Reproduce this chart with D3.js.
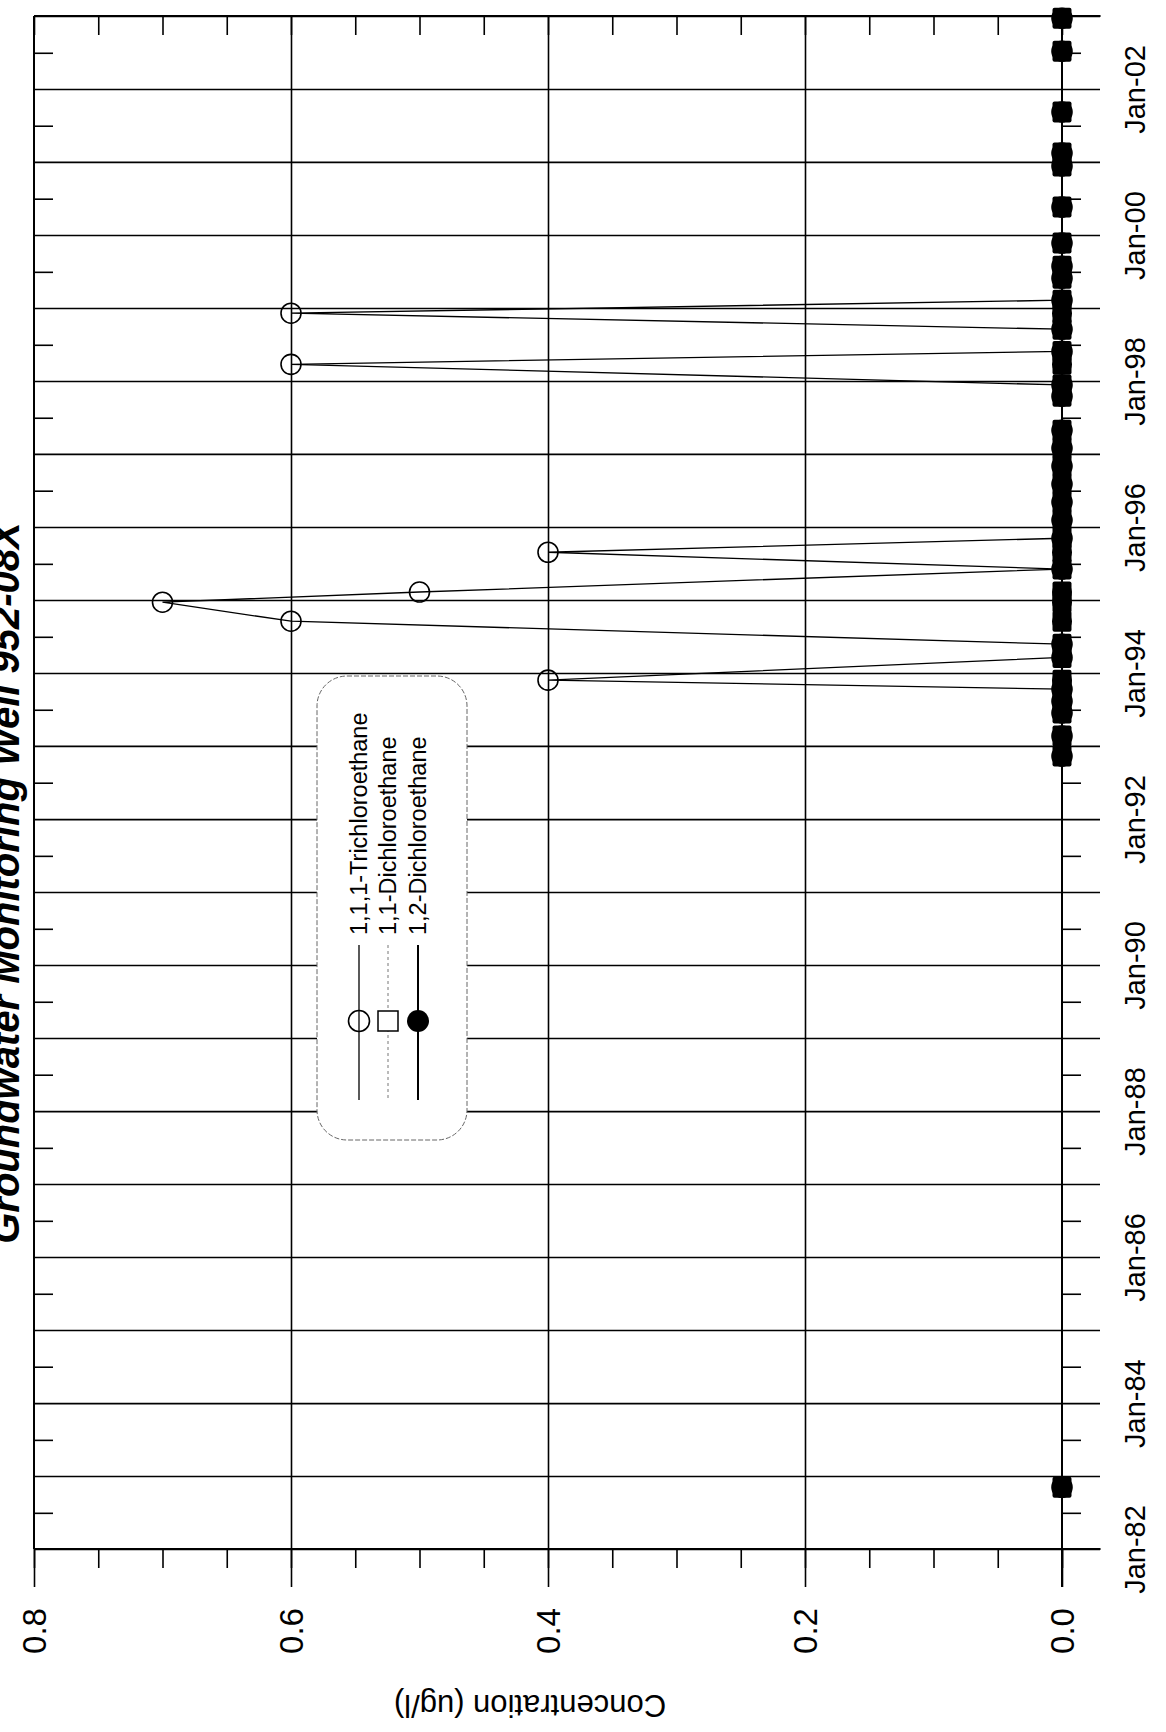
<!DOCTYPE html>
<html><head><meta charset="utf-8">
<script src="https://cdn.jsdelivr.net/npm/d3@7"></script>
<style>body{margin:0;background:#fff} svg{display:block;font-family:"Liberation Sans",Arial,sans-serif}</style>
</head><body>
<svg id="c" width="1166" height="1732"></svg>
<script>
const chartTitle = "Groundwater Monitoring Well 952-08X";
const valueAxisTitle = "Concentration (ug/l)";
const seriesNames = ["1,1,1-Trichloroethane", "1,1-Dichloroethane", "1,2-Dichloroethane"];
const sampleDates = ["1982-11-06","1992-11-11","1993-02-20","1993-06-15","1993-08-13","1993-10-12","1993-11-26",
  "1994-03-20","1994-05-25","1994-09-17","1994-12-21","1995-02-10","1995-06-05","1995-08-28","1995-11-06",
  "1996-02-05","1996-05-05","1996-08-03","1996-11-01","1997-01-30","1997-04-29","1997-10-17","1997-12-12",
  "1998-03-25","1998-05-29","1998-09-17","1998-12-06","1999-02-09","1999-05-30","1999-07-29","1999-11-22",
  "2000-05-20","2000-12-12","2001-02-14","2001-09-08","2002-07-09","2002-12-21"];
const tca111 = [0,0,0,0,0,0,0.4, 0,0,0.6,0.7,0.5,0,0.4,0, 0,0,0,0,0,0,0,0, 0.6,0,0,0.6,0,0,0,0, 0,0,0,0,0,0];
const dca11  = [0,0,0,0,0,0,0, 0,0,0,0,0,0,0,0, 0,0,0,0,0,0,0,0, 0,0,0,0,0,0,0,0, 0,0,0,0,0,0];
const dca12  = [0,0,0,0,0,0,0, 0,0,0,0,0,0,0,0, 0,0,0,0,0,0,0,0, 0,0,0,0,0,0,0,0, 0,0,0,0,0,0];
const valueMajorTicks = [0, 0.2, 0.4, 0.6, 0.8];
const valueTickLabels = ["0.0", "0.2", "0.4", "0.6", "0.8"];
const dateTickLabels = ["Jan-82","Jan-84","Jan-86","Jan-88","Jan-90","Jan-92","Jan-94","Jan-96","Jan-98","Jan-00","Jan-02"];

const svg = d3.select("#c");
const parse = d3.timeParse("%Y-%m-%d");
const dates = sampleDates.map(parse);

// geometry (chart is drawn rotated: dates run bottom->top, values right->left)
const X0 = 1062, XL = 34, YB = 1549, YT = 16, OUT = 38, MIN = 19;
const x = d3.scaleLinear().domain([0.8, 0]).range([XL, X0]);
const y = d3.scaleTime().domain([new Date(1982,0,1), new Date(2003,0,1)]).range([YB, YT]);
const xRight = x(-0.03);

const years = d3.timeYear.range(new Date(1982,0,1), new Date(2003,0,2));
const julys = d3.timeYear.range(new Date(1982,0,1), new Date(2003,0,1)).map(d => d3.timeMonth.offset(d, 6));
const minorVals = d3.range(0, 17).map(i => +(i*0.05).toFixed(2));

const g = svg.append("g");
const black = "#000";

// vertical gridlines (value)
g.append("g").attr("transform", `translate(0,${YB})`)
  .call(d3.axisBottom(x).tickValues(valueMajorTicks.filter(v => v > 0 && v < 0.8)).tickSize(-(YB-YT)).tickFormat(""))
  .call(s => s.select(".domain").remove())
  .selectAll("line").attr("stroke", black).attr("stroke-width", 1.6);
// horizontal gridlines (dates)
g.append("g").attr("transform", `translate(${X0},0)`)
  .call(d3.axisRight(y).tickValues(years).tickSize(-(X0-XL)).tickFormat(""))
  .call(s => s.select(".domain").remove())
  .selectAll("line").attr("stroke", black).attr("stroke-width", 1.6);

// left border with inward minor ticks
g.append("line").attr("x1", XL).attr("x2", XL).attr("y1", YT).attr("y2", YB).attr("stroke", black).attr("stroke-width", 2);
g.append("g").attr("transform", `translate(${XL},0)`)
  .call(d3.axisRight(y).tickValues(julys).tickSize(MIN).tickFormat(""))
  .call(s => s.select(".domain").remove())
  .selectAll("line").attr("stroke", black).attr("stroke-width", 1.6);
// top border with inward minor ticks
g.append("line").attr("x1", XL).attr("x2", xRight).attr("y1", YT).attr("y2", YT).attr("stroke", black).attr("stroke-width", 2);
g.append("g").attr("transform", `translate(0,${YT})`)
  .call(d3.axisBottom(x).tickValues(minorVals).tickSize(MIN).tickFormat(""))
  .call(s => s.select(".domain").remove())
  .selectAll("line").attr("stroke", black).attr("stroke-width", 1.6);

// value axis (bottom)
g.append("line").attr("x1", XL).attr("x2", xRight).attr("y1", YB).attr("y2", YB).attr("stroke", black).attr("stroke-width", 2);
g.append("g").attr("transform", `translate(0,${YB})`)
  .call(d3.axisBottom(x).tickValues(minorVals).tickSize(MIN).tickFormat(""))
  .call(s => s.select(".domain").remove())
  .selectAll("line").attr("stroke", black).attr("stroke-width", 1.6);
const vAxis = g.append("g").attr("transform", `translate(0,${YB})`)
  .call(d3.axisBottom(x).tickValues(valueMajorTicks).tickSize(OUT).tickFormat((d, i) => valueTickLabels[valueMajorTicks.indexOf(d)]));
vAxis.select(".domain").remove();
vAxis.selectAll("line").attr("stroke", black).attr("stroke-width", 1.6);
vAxis.selectAll("text").attr("transform", "rotate(-90)").attr("x", -(1631 - YB)).attr("y", 0).attr("dy", "0.35em")
  .attr("text-anchor", "middle").attr("fill", black).style("font-size", "33px").style("font-family", "Liberation Sans, Arial, sans-serif");

// date axis at value 0
g.append("line").attr("x1", X0).attr("x2", X0).attr("y1", YT).attr("y2", YB + OUT).attr("stroke", black).attr("stroke-width", 2);
g.append("g").attr("transform", `translate(${X0},0)`)
  .call(d3.axisRight(y).tickValues(julys).tickSize(MIN).tickFormat(""))
  .call(s => s.select(".domain").remove())
  .selectAll("line").attr("stroke", black).attr("stroke-width", 1.6);
const fmt = d3.timeFormat("%b-%y");
const dAxis = g.append("g").attr("transform", `translate(${X0},0)`)
  .call(d3.axisRight(y).tickValues(years).tickSize(OUT).tickFormat(d => { const s = fmt(d); return dateTickLabels.includes(s) ? s : ""; }));
dAxis.select(".domain").remove();
dAxis.selectAll("line").attr("stroke", black).attr("stroke-width", 1.6);
dAxis.selectAll("text").attr("transform", "rotate(-90)").attr("x", 0).attr("y", 1135 - X0).attr("dy", "0.35em")
  .attr("text-anchor", "middle").attr("fill", black).style("font-size", "29px").style("font-family", "Liberation Sans, Arial, sans-serif");

// titles
svg.append("text").attr("transform", `translate(19,883) rotate(-90)`).attr("text-anchor", "middle")
  .style("font-size", "40px").style("font-weight", "bold").style("font-style", "italic").text(chartTitle);
svg.append("text").attr("transform", `translate(530,1706) rotate(180)`).attr("text-anchor", "middle").attr("dy", "0.35em")
  .style("font-size", "31px").text(valueAxisTitle);

// series
const series = [
  {name: seriesNames[0], vals: tca111, stroke: "#000", width: 1.3, dash: null, marker: "circleOpen"},
  {name: seriesNames[1], vals: dca11, stroke: "#777", width: 1, dash: "3,3", marker: "square"},
  {name: seriesNames[2], vals: dca12, stroke: "#000", width: 2, dash: null, marker: "circleFilled"}
];
const line = d3.line().x(d => x(d.v)).y(d => y(d.t));
const plot = svg.append("g");
series.forEach(s => {
  const pts = dates.map((t, i) => ({t, v: s.vals[i]}));
  plot.append("path").datum(pts).attr("d", line).attr("fill", "none")
    .attr("stroke", s.stroke).attr("stroke-width", s.width).attr("stroke-dasharray", s.dash);
});
series.slice().reverse().forEach(s => {
  const pts = dates.map((t, i) => ({t, v: s.vals[i]}));
  const sel = plot.append("g").selectAll("x").data(pts).enter();
  if (s.marker === "square") {
    sel.append("rect").attr("x", d => x(d.v) - 9.5).attr("y", d => y(d.t) - 10.5).attr("width", 19).attr("height", 21)
      .attr("rx", 2).attr("fill", "#000");
  } else if (s.marker === "circleFilled") {
    sel.append("circle").attr("cx", d => x(d.v)).attr("cy", d => y(d.t)).attr("r", 10).attr("fill", "#000");
  } else {
    sel.append("circle").attr("cx", d => x(d.v)).attr("cy", d => y(d.t)).attr("r", 10).attr("fill", "none")
      .attr("stroke", "#000").attr("stroke-width", 1.6);
  }
});

// legend
const lg = svg.append("g");
lg.append("rect").attr("x", 317).attr("y", 676).attr("width", 150).attr("height", 464).attr("rx", 30)
  .attr("fill", "#fff").attr("stroke", "#666").attr("stroke-width", 1).attr("stroke-dasharray", "5,2");
const legX = [359, 388, 418];
series.forEach((s, i) => {
  const lx = legX[i];
  lg.append("line").attr("x1", lx).attr("x2", lx).attr("y1", 945).attr("y2", 1100)
    .attr("stroke", s.stroke).attr("stroke-width", s.width).attr("stroke-dasharray", s.dash);
  if (s.marker === "square") {
    lg.append("rect").attr("x", lx - 10).attr("y", 1011).attr("width", 20).attr("height", 20)
      .attr("fill", "#fff").attr("stroke", "#000").attr("stroke-width", 1.5);
  } else if (s.marker === "circleFilled") {
    lg.append("circle").attr("cx", lx).attr("cy", 1021).attr("r", 11).attr("fill", "#000");
  } else {
    lg.append("circle").attr("cx", lx).attr("cy", 1021).attr("r", 10.5).attr("fill", "none").attr("stroke", "#000").attr("stroke-width", 1.6);
  }
  lg.append("text").attr("transform", `translate(${lx},935) rotate(-90)`).attr("dy", "0.35em")
    .style("font-size", "23.5px").text(s.name);
});
</script>
</body></html>
